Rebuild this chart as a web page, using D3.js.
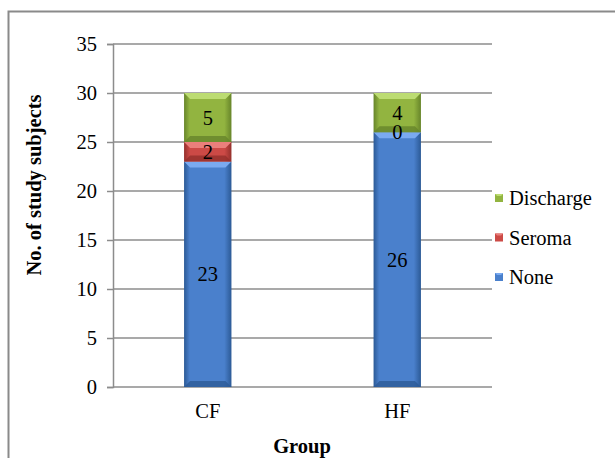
<!DOCTYPE html>
<html>
<head>
<meta charset="utf-8">
<script src="https://cdn.jsdelivr.net/npm/d3@7"></script>
<style>
  html, body { margin: 0; padding: 0; background: #fff; }
  svg text { font-family: "Liberation Serif", "Times New Roman", serif; fill: #000; }
</style>
</head>
<body>
<svg id="chart" width="615" height="458"></svg>
<script>
// Study groups and complication counts (stacked bottom to top)
const groups = ["CF", "HF"];
const seriesNames = ["None", "Seroma", "Discharge"];
const noneValues = [23, 26];
const seromaValues = [2, 0];
const dischargeValues = [5, 4];
const yTicks = [0, 5, 10, 15, 20, 25, 30, 35];

const colors = {
  None:      { base: "#4a80cc", light: "#7aaaf0", dark: "#2c5a96" },
  Seroma:    { base: "#cc4a46", light: "#ea7f7b", dark: "#94302c" },
  Discharge: { base: "#92b440", light: "#bcdc72", dark: "#67852a" }
};
const FONT = 20.5;

const svg = d3.select("#chart");
const margin = { left: 113, right: 492, top: 44, bottom: 387 };

// Outer frame
svg.append("rect")
  .attr("x", 8.5).attr("y", 11.5)
  .attr("width", 620).attr("height", 460)
  .attr("fill", "none").attr("stroke", "#8a8a8a").attr("stroke-width", 2);

const x = d3.scaleBand().domain(groups).range([margin.left, margin.right]).paddingInner(0.75).paddingOuter(0.375);
const y = d3.scaleLinear().domain([0, 35]).range([margin.bottom, margin.top]);

// Gridlines
svg.append("g").selectAll("line").data(yTicks.filter(d => d > 0)).join("line")
  .attr("x1", margin.left).attr("x2", margin.right)
  .attr("y1", d => y(d)).attr("y2", d => y(d))
  .attr("stroke", "#8c8c8c").attr("stroke-width", 1.5);

// Y axis
const yAxis = svg.append("g").attr("transform", `translate(${margin.left},0)`)
  .call(d3.axisLeft(y).tickValues(yTicks).tickSize(6).tickPadding(10));
yAxis.attr("font-family", null).attr("font-size", null);
yAxis.select(".domain").attr("stroke", "#8c8c8c").attr("stroke-width", 1.5);
yAxis.selectAll(".tick line").attr("stroke", "#8c8c8c").attr("stroke-width", 1.5);
yAxis.selectAll(".tick text").attr("font-size", FONT).attr("dy", "0.33em");

// X axis
const xAxis = svg.append("g").attr("transform", `translate(0,${margin.bottom})`)
  .call(d3.axisBottom(x).tickSize(0).tickPadding(16));
xAxis.attr("font-family", null).attr("font-size", null);
xAxis.select(".domain").attr("stroke", "#8c8c8c").attr("stroke-width", 1.5).attr("d", `M${margin.left},0H${margin.right}`);
xAxis.selectAll(".tick text").attr("font-size", FONT);

// Stack the series
const rows = groups.map((g, i) => ({ group: g, None: noneValues[i], Seroma: seromaValues[i], Discharge: dischargeValues[i] }));
const stacked = d3.stack().keys(seriesNames)(rows);

const bw = x.bandwidth();
const bevel = 6;
const segs = [];
stacked.forEach(layer => {
  layer.forEach((d, i) => {
    segs.push({ key: layer.key, group: rows[i].group, y0: d[0], y1: d[1], value: d[1] - d[0] });
  });
});

// Horizontal shading gradients for each series
const defs = svg.append("defs");
seriesNames.forEach(k => {
  const c = colors[k];
  const gr = defs.append("linearGradient").attr("id", "g-" + k).attr("x1", 0).attr("x2", 1).attr("y1", 0).attr("y2", 0);
  gr.append("stop").attr("offset", "0%").attr("stop-color", c.dark);
  gr.append("stop").attr("offset", "12%").attr("stop-color", c.base);
  gr.append("stop").attr("offset", "85%").attr("stop-color", c.base);
  gr.append("stop").attr("offset", "100%").attr("stop-color", c.dark);
});

const barG = svg.append("g");
segs.filter(s => s.value > 0).forEach(s => {
  const c = colors[s.key];
  const x0 = x(s.group), x1 = x0 + bw;
  const top = y(s.y1), bot = y(s.y0);
  const b = Math.min(bevel, (bot - top) / 2);
  const g = barG.append("g");
  g.append("rect").attr("x", x0).attr("y", top).attr("width", bw).attr("height", bot - top).attr("fill", `url(#g-${s.key})`);
  // top bevel
  g.append("path").attr("d", `M${x0},${top}H${x1}L${x1 - b},${top + b}H${x0 + b}Z`).attr("fill", c.light);
  // bottom bevel
  g.append("path").attr("d", `M${x0},${bot}H${x1}L${x1 - b},${bot - b}H${x0 + b}Z`).attr("fill", c.dark).attr("opacity", 0.8);
});

// Value labels at segment centres
svg.append("g").selectAll("text").data(segs).join("text")
  .attr("x", d => x(d.group) + bw / 2)
  .attr("y", d => y((d.y0 + d.y1) / 2))
  .attr("dy", "0.35em")
  .attr("text-anchor", "middle")
  .attr("font-size", FONT)
  .text(d => d.value);

// Axis titles
svg.append("text")
  .attr("transform", "translate(41,185) rotate(-90)")
  .attr("text-anchor", "middle").attr("font-size", FONT).attr("font-weight", "bold")
  .text("No. of study subjects");
svg.append("text")
  .attr("x", 302).attr("y", 453)
  .attr("text-anchor", "middle").attr("font-size", FONT).attr("font-weight", "bold")
  .text("Group");

// Legend (top entry = top of stack)
const legendItems = seriesNames.slice().reverse();
const lg = svg.append("g").selectAll("g").data(legendItems).join("g")
  .attr("transform", (d, i) => `translate(495,${198 + i * 39.5})`);
lg.append("rect").attr("x", 0).attr("y", -4).attr("width", 8).attr("height", 8).attr("fill", d => colors[d].base);
lg.append("path").attr("d", "M0,-4H8L6,-2H2Z").attr("fill", d => colors[d].light);
lg.append("text").attr("x", 14).attr("dy", "0.35em").attr("font-size", FONT).text(d => d);
</script>
</body>
</html>
